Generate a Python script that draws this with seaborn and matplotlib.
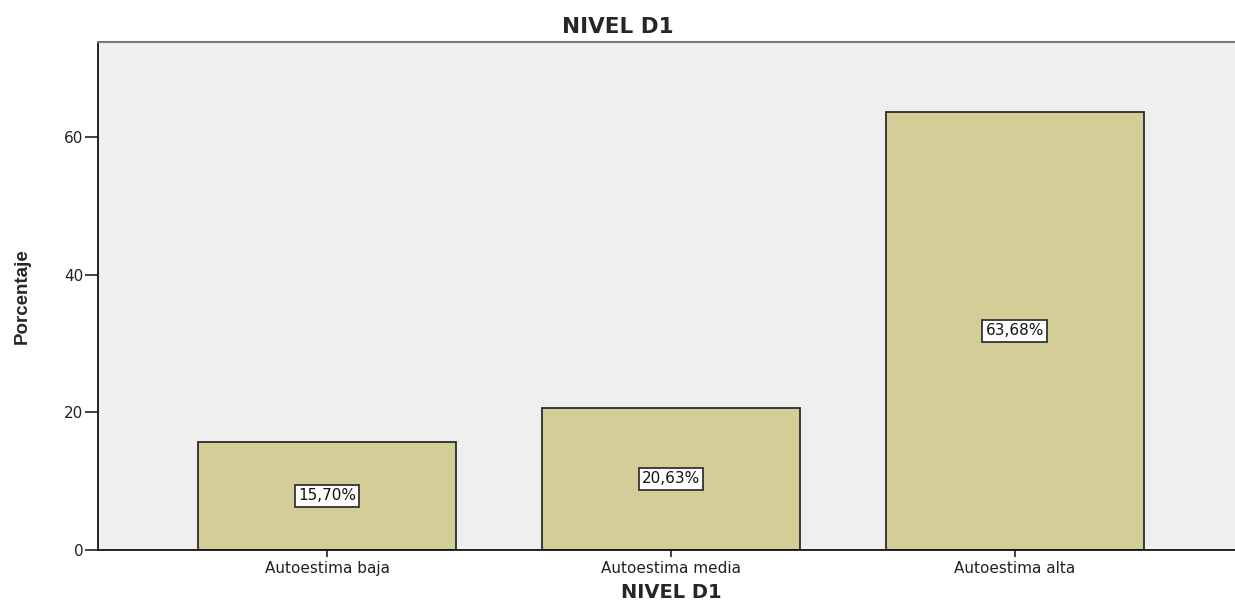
import matplotlib
matplotlib.use("Agg")
import matplotlib.pyplot as plt
import seaborn as sns
import pandas as pd

categorias = ["Autoestima baja", "Autoestima media", "Autoestima alta"]
porcentajes = [15.70, 20.63, 63.68]
etiquetas = ["15,70%", "20,63%", "63,68%"]
yticks = [0, 20, 40, 60]

sns.set_style("white")
plt.rcParams["font.family"] = ["DejaVu Sans"]

df = pd.DataFrame({"nivel": categorias, "pct": porcentajes})

fig = plt.figure(figsize=(12.35, 6.05), dpi=100)
ax = fig.add_axes([98 / 1235, 1 - 550 / 605, (1244 - 98) / 1235, (550 - 42) / 605])
ax.set_facecolor("#EFEFEF")

sns.barplot(data=df, x="nivel", y="pct", color="#D3CD97", saturation=1,
            width=0.75, edgecolor="#2b2b2b", linewidth=1.3, ax=ax, zorder=2)

for i, (v, lab) in enumerate(zip(porcentajes, etiquetas)):
    ax.text(i, v / 2, lab, ha="center", va="center", fontsize=11, color="#111111",
            bbox=dict(boxstyle="square,pad=0.22", facecolor="white",
                      edgecolor="#333333", linewidth=1.3), zorder=3)

ax.set_xlim(-0.666, 2.666)
ax.set_ylim(0, 73.8)
ax.set_yticks(yticks)
ax.tick_params(axis="both", direction="out", width=1.2, colors="#222222",
               labelsize=11, left=True, bottom=True)
ax.tick_params(axis="y", length=9.5, pad=1)
ax.tick_params(axis="x", length=5, pad=3)

for s in ["left", "bottom"]:
    ax.spines[s].set_color("#111111")
    ax.spines[s].set_linewidth(1.3)
ax.spines["top"].set_color("#7a7a7a")
ax.spines["top"].set_linewidth(1.5)
ax.spines["right"].set_visible(False)

ax.set_xlabel("NIVEL D1", fontsize=14, fontweight="bold", labelpad=5)
ax.set_ylabel("Porcentaje", fontsize=13.5, fontweight="bold",
              family=["Liberation Sans Narrow", "Liberation Sans", "DejaVu Sans"], labelpad=24)

fig.text(0.5, 1 - 27 / 605, "NIVEL D1", ha="center", va="center",
         fontsize=15.5, fontweight="bold")

fig.savefig("out.png", dpi=100, facecolor="white")
